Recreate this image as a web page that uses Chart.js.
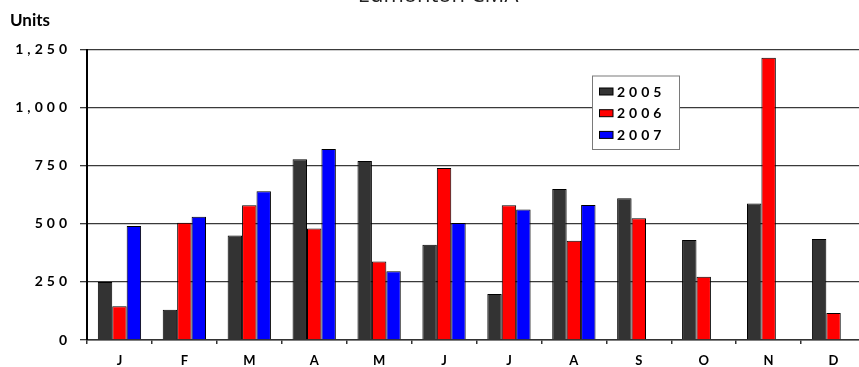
<!DOCTYPE html>
<html>
<head>
<meta charset="utf-8">
<script src="https://cdn.jsdelivr.net/npm/chart.js@4/dist/chart.umd.min.js"></script>
<style>
  html, body { margin: 0; padding: 0; background: #fff; overflow: hidden; width: 859px; height: 367px; }
  #wrap { position: absolute; left: 0; top: -22px; width: 880px; height: 389px; }
</style>
</head>
<body>
<div id="wrap"><canvas id="c" width="880" height="389"></canvas></div>
<script>
// Monthly housing units, Edmonton CMA
const months = ['J', 'F', 'M', 'A', 'M', 'J', 'J', 'A', 'S', 'O', 'N', 'D'];
const years = ['2005', '2006', '2007'];
const units2005 = [250, 130, 450, 778, 770, 410, 198, 650, 610, 430, 587, 435];
const units2006 = [145, 505, 580, 480, 338, 740, 580, 427, 524, 272, 1215, 116];
const units2007 = [490, 530, 640, 822, 296, 503, 561, 581, null, null, null, null];
const yTicks = [0, 250, 500, 750, 1000, 1250];

const seriesColors = ['#333333', '#ff0000', '#0000ff'];
const series = [units2005, units2006, units2007];

const labelFont = "Lato, 'DejaVu Sans', sans-serif";

// Spaced-out lettering for the value axis and the legend
const spacing = {
  id: 'spacing',
  beforeDraw(chart) { chart.ctx.letterSpacing = '0px'; },
  afterDatasetsDraw(chart) { chart.ctx.letterSpacing = '4px'; }
};

// Boxed legend sitting inside the plot area
const boxLegend = {
  id: 'boxLegend',
  afterDraw(chart) {
    const ctx = chart.ctx;
    const x0 = 592, y0 = 75.5 + 22, w = 87, h = 73.5;
    ctx.save();
    ctx.fillStyle = '#ffffff';
    ctx.fillRect(x0, y0, w, h);
    ctx.strokeStyle = '#7a7a7a';
    ctx.lineWidth = 1;
    ctx.strokeRect(x0 + 0.5, y0 + 0.5, w, h);
    ctx.font = "bold 14px " + labelFont;
    ctx.textBaseline = 'middle';
    ctx.textAlign = 'left';
    chart.data.datasets.forEach((ds, i) => {
      const cy = y0 + 16 + i * 21.7;
      ctx.fillStyle = ds.backgroundColor;
      ctx.fillRect(x0 + 7, cy - 3.5, 14, 7);
      ctx.strokeStyle = '#000';
      ctx.strokeRect(x0 + 7.5, cy - 3.5, 13.5, 7);
      ctx.fillStyle = '#000';
      ctx.fillText(ds.label, x0 + 25, cy + 0.5);
    });
    ctx.restore();
  }
};

new Chart(document.getElementById('c'), {
  type: 'bar',
  data: {
    labels: months,
    datasets: years.map((y, i) => ({
      label: y,
      data: series[i],
      backgroundColor: seriesColors[i],
      borderColor: '#000000',
      borderWidth: 1,
      barPercentage: 1,
      categoryPercentage: 0.667
    }))
  },
  options: {
    responsive: false,
    animation: false,
    devicePixelRatio: 1,
    layout: { padding: { left: 10, right: 14, top: 0, bottom: 0 } },
    plugins: {
      legend: { display: false },
      tooltip: { enabled: false },
      title: {
        display: true,
        text: 'Edmonton CMA',
        color: '#222',
        font: { family: "'Open Sans', sans-serif", size: 22, weight: 'normal' },
        padding: { top: 4.5, bottom: 0 }
      },
      subtitle: {
        display: true,
        text: 'Units',
        align: 'start',
        color: '#000',
        font: { family: labelFont, size: 17, weight: 'bold' },
        padding: { top: 1.9, bottom: 18.3 }
      }
    },
    scales: {
      x: {
        offset: true,
        grid: { offset: true, drawOnChartArea: false, drawTicks: true, tickLength: 4, color: '#333', lineWidth: 1.5 },
        border: { color: '#333', width: 1.5 },
        ticks: { color: '#000', padding: 9, font: { family: labelFont, size: 13, weight: 'bold' } },
        afterFit(scale) { scale.height = 27; }
      },
      y: {
        min: 0,
        max: 1250,
        afterBuildTicks(scale) { scale.ticks = yTicks.map(v => ({ value: v })); },
        grid: { color: '#3a3a3a', lineWidth: 1.3, tickLength: 7 },
        border: { color: '#000', width: 2 },
        ticks: { z: 1, color: '#000', padding: 9, font: { family: labelFont, size: 14, weight: 'bold' } },
        afterFit(scale) { scale.width = 77; }
      }
    }
  },
  plugins: [spacing, boxLegend]
});
</script>
</body>
</html>
